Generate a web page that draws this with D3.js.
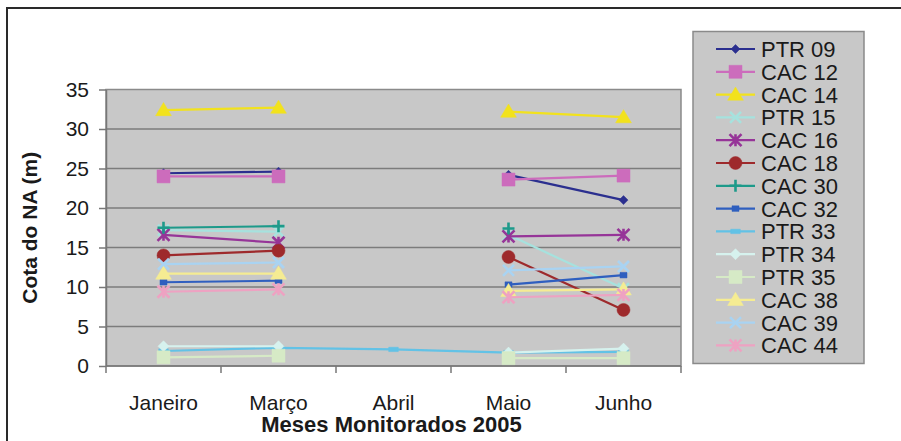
<!DOCTYPE html>
<html>
<head>
<meta charset="utf-8">
<script src="https://cdn.jsdelivr.net/npm/d3@7"></script>
<style>
  html, body { margin: 0; padding: 0; background: #fff; }
  svg { display: block; font-family: "Liberation Sans", Arial, sans-serif; }
</style>
</head>
<body>
<svg id="chart" width="901" height="441"></svg>
<script>
// Months monitored in 2005 and water level (Cota do NA, m) per well
const months = ["Janeiro", "Março", "Abril", "Maio", "Junho"];
const yTicks = [0, 5, 10, 15, 20, 25, 30, 35];

const ptr09 = [24.4, 24.6, null, 24.2, 21.0];
const cac12 = [24.0, 24.0, null, 23.6, 24.1];
const cac14 = [32.4, 32.7, null, 32.2, 31.5];
const ptr15 = [17.2, 17.0, null, 16.6, 9.8];
const cac16 = [16.6, 15.6, null, 16.4, 16.6];
const cac18 = [14.0, 14.6, null, 13.8, 7.1];
const cac30 = [17.5, 17.7, null, 17.4, null];
const cac32 = [10.6, 10.8, null, 10.3, 11.5];
const ptr33 = [1.9, 2.3, 2.1, 1.7, 1.8];
const ptr34 = [2.5, 2.5, null, 1.7, 2.2];
const ptr35 = [1.1, 1.3, null, 1.0, 1.0];
const cac38 = [11.7, 11.7, null, 9.5, 9.7];
const cac39 = [12.9, 13.1, null, 12.1, 12.6];
const cac44 = [9.4, 9.7, null, 8.7, 9.0];

const series = [
  { name: "PTR 09", values: ptr09, color: "#2b2f8f", marker: "diamond", size: 9 },
  { name: "CAC 12", values: cac12, color: "#cc6cbc", marker: "square", size: 13 },
  { name: "CAC 14", values: cac14, color: "#f2e21c", marker: "triangle", size: 15 },
  { name: "PTR 15", values: ptr15, color: "#a6e2de", marker: "x", size: 11 },
  { name: "CAC 16", values: cac16, color: "#963598", marker: "asterisk", size: 12 },
  { name: "CAC 18", values: cac18, color: "#9e2a2c", marker: "circle", size: 13 },
  { name: "CAC 30", values: cac30, color: "#1d9a8a", marker: "plus", size: 12 },
  { name: "CAC 32", values: cac32, color: "#2f5fbf", marker: "smallsquare", size: 7 },
  { name: "PTR 33", values: ptr33, color: "#62c2e6", marker: "bar", size: 8 },
  { name: "PTR 34", values: ptr34, color: "#d6f2ee", marker: "diamond", size: 11 },
  { name: "PTR 35", values: ptr35, color: "#d6eac6", marker: "square", size: 13 },
  { name: "CAC 38", values: cac38, color: "#f5ec92", marker: "triangle", size: 15 },
  { name: "CAC 39", values: cac39, color: "#a9d3f2", marker: "x", size: 11 },
  { name: "CAC 44", values: cac44, color: "#eea2c2", marker: "asterisk", size: 12 }
];

const svg = d3.select("#chart");
const plot = { left: 106, right: 681, top: 89.5, bottom: 366 };

// Outer chart frame
svg.append("rect")
  .attr("x", 7).attr("y", 8).attr("width", 1000).attr("height", 1000)
  .attr("fill", "#fff").attr("stroke", "#2a2a2a").attr("stroke-width", 2);

const x = d3.scaleBand().domain(months).range([plot.left, plot.right]).padding(0);
const y = d3.scaleLinear().domain([0, 35]).range([plot.bottom, plot.top]);

// Plot background
svg.append("rect")
  .attr("x", plot.left).attr("y", plot.top)
  .attr("width", plot.right - plot.left).attr("height", plot.bottom - plot.top)
  .attr("fill", "#c8c8c8");

// Horizontal gridlines
svg.append("g").selectAll("line").data(yTicks.filter(t => t > 0 && t < 35)).join("line")
  .attr("x1", plot.left).attr("x2", plot.right)
  .attr("y1", d => y(d)).attr("y2", d => y(d))
  .attr("stroke", "#7c7c7c").attr("stroke-width", 1.5);

// Plot border
svg.append("rect")
  .attr("x", plot.left).attr("y", plot.top)
  .attr("width", plot.right - plot.left).attr("height", plot.bottom - plot.top)
  .attr("fill", "none").attr("stroke", "#8a8a8a").attr("stroke-width", 1.5);

// Y axis
const yAxis = d3.axisLeft(y).tickValues(yTicks).tickSize(7).tickPadding(10).tickSizeOuter(0);
const gy = svg.append("g").attr("transform", `translate(${plot.left},0)`).call(yAxis);
gy.select(".domain").attr("stroke", "#777").attr("stroke-width", 1.5);
gy.selectAll(".tick line").attr("stroke", "#777").attr("stroke-width", 1.5);
gy.selectAll(".tick text").attr("font-size", 21).attr("fill", "#1a1a1a")
  .attr("font-family", "'Liberation Sans', Arial, sans-serif");

// X axis: ticks at category boundaries
const gx = svg.append("g").attr("transform", `translate(0,${plot.bottom})`);
gx.append("line").attr("x1", plot.left).attr("x2", plot.right)
  .attr("stroke", "#777").attr("stroke-width", 1.5);
const boundaries = months.map(m => x(m)).concat([x(months[months.length - 1]) + x.bandwidth()]);
gx.selectAll("line.tk").data(boundaries).join("line").attr("class", "tk")
  .attr("x1", d => d).attr("x2", d => d).attr("y1", 0).attr("y2", 7)
  .attr("stroke", "#777").attr("stroke-width", 1.5);
gx.selectAll("text").data(months).join("text")
  .attr("x", d => x(d) + x.bandwidth() / 2).attr("y", 44)
  .attr("text-anchor", "middle").attr("font-size", 21).attr("fill", "#1a1a1a")
  .text(d => d);

// Axis titles
svg.append("text")
  .attr("x", plot.left + (plot.right - plot.left) / 2 - 2).attr("y", 432)
  .attr("text-anchor", "middle").attr("font-size", 22).attr("font-weight", "bold")
  .attr("fill", "#1a1a1a").text("Meses Monitorados 2005");
svg.append("text")
  .attr("transform", `translate(37,${(plot.top + plot.bottom) / 2}) rotate(-90)`)
  .attr("text-anchor", "middle").attr("font-size", 21).attr("font-weight", "bold")
  .attr("fill", "#1a1a1a").text("Cota do NA (m)");

// Marker shapes
function markerPath(type, s) {
  const h = s / 2;
  switch (type) {
    case "diamond": return `M0,${-h}L${h},0L0,${h}L${-h},0Z`;
    case "square": return `M${-h},${-h}H${h}V${h}H${-h}Z`;
    case "smallsquare": return `M${-h},${-h * 0.8}H${h}V${h * 0.8}H${-h}Z`;
    case "bar": return `M${-h * 1.2},${-h * 0.55}H${h * 1.2}V${h * 0.55}H${-h * 1.2}Z`;
    case "triangle": return `M0,${-h}L${h * 1.05},${h * 0.75}L${-h * 1.05},${h * 0.75}Z`;
    case "circle": return d3.symbol(d3.symbolCircle, Math.PI * h * h)();
    case "x": return `M${-h},${-h}L${h},${h}M${-h},${h}L${h},${-h}`;
    case "plus": return `M${-h},0H${h}M0,${-h}V${h}`;
    case "asterisk": return `M${-h},${-h}L${h},${h}M${-h},${h}L${h},${-h}M0,${-h}V${h}`;
  }
}
const stroked = t => t === "x" || t === "plus" || t === "asterisk";

function drawMarker(g, s, cx, cy) {
  const p = g.append("path")
    .attr("d", markerPath(s.marker, s.size))
    .attr("transform", `translate(${cx},${cy})`);
  if (stroked(s.marker)) {
    p.attr("fill", "none").attr("stroke", s.color).attr("stroke-width", 2.6);
  } else {
    p.attr("fill", s.color).attr("stroke", s.color).attr("stroke-width", 0.5);
  }
}

// Series lines and markers
const line = d3.line()
  .defined(d => d.v !== null)
  .x(d => x(d.m) + x.bandwidth() / 2)
  .y(d => y(d.v));

const gs = svg.append("g");
series.forEach(s => {
  const pts = months.map((m, i) => ({ m, v: s.values[i] }));
  const g = gs.append("g");
  g.append("path").datum(pts).attr("d", line)
    .attr("fill", "none").attr("stroke", s.color).attr("stroke-width", 2.2);
  pts.filter(d => d.v !== null).forEach(d => drawMarker(g, s, x(d.m) + x.bandwidth() / 2, y(d.v)));
});

// Legend
const leg = { x: 693, y: 31.5, w: 171, h: 332 };
svg.append("rect")
  .attr("x", leg.x).attr("y", leg.y).attr("width", leg.w).attr("height", leg.h)
  .attr("fill", "#c8c8c8").attr("stroke", "#8a8a8a").attr("stroke-width", 1.5);
series.forEach((s, i) => {
  const cy = 49 + i * 22.8;
  const g = svg.append("g");
  g.append("line").attr("x1", 716).attr("x2", 755).attr("y1", cy).attr("y2", cy)
    .attr("stroke", s.color).attr("stroke-width", 2.2);
  drawMarker(g, s, 735.5, cy);
  g.append("text").attr("x", 761).attr("y", cy).attr("dy", "0.36em")
    .attr("font-size", 22).attr("fill", "#1a1a1a").text(s.name);
});
</script>
</body>
</html>
